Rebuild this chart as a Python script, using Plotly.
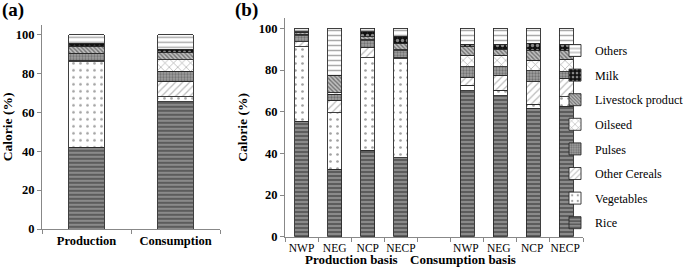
import plotly.graph_objects as go

series = ["Rice", "Vegetables", "Other Cereals", "Pulses", "Oilseed", "Livestock product", "Milk", "Others"]

# Panel (a)
cats_a = ["Production", "Consumption"]
vals_a = {
    "Rice": [42, 65.5],
    "Vegetables": [44, 2.5],
    "Other Cereals": [0.5, 8],
    "Pulses": [3.5, 5],
    "Oilseed": [0.5, 6],
    "Livestock product": [3.5, 4],
    "Milk": [1.5, 1.5],
    "Others": [4.5, 7.5],
}

# Panel (b)
cats_b = ["NWP", "NEG", "NCP", "NECP", "  ", "NWP ", "NEG ", "NCP ", "NECP "]
vals_b = {
    "Rice":              [55.5, 32.5, 41.5, 38.0, None, 70.0, 67.7, 61.6, 62.7],
    "Vegetables":        [35.7, 27.0, 44.5, 47.5, None, 2.8, 2.7, 2.1, 4.5],
    "Other Cereals":     [2.4, 6.0, 5.0, 0.5, None, 3.7, 7.2, 10.7, 8.8],
    "Pulses":            [2.8, 3.0, 3.0, 3.2, None, 5.1, 4.0, 5.3, 3.2],
    "Oilseed":           [0.8, 0.5, 0.5, 0.5, None, 5.6, 5.6, 5.1, 6.0],
    "Livestock product": [1.0, 8.5, 1.5, 3.0, None, 4.0, 2.8, 4.8, 4.1],
    "Milk":              [0.3, 0.0, 2.5, 3.5, None, 1.3, 2.5, 3.2, 3.2],
    "Others":            [1.5, 22.5, 1.5, 3.8, None, 7.5, 7.5, 7.2, 7.5],
}
group_labels = ["Production basis", "Consumption basis"]

patterns = {
    "Rice": dict(shape="-", fgcolor="#222222", bgcolor="#8a8a8a", size=4, solidity=0.45),
    "Vegetables": dict(shape=".", fgcolor="#444444", bgcolor="white", size=7, solidity=0.12),
    "Other Cereals": dict(shape="/", fgcolor="#777777", bgcolor="white", size=5, solidity=0.25),
    "Pulses": dict(shape=".", fgcolor="#444444", bgcolor="#a0a0a0", size=3, solidity=0.45),
    "Oilseed": dict(shape="x", fgcolor="#444444", bgcolor="white", size=6, solidity=0.2),
    "Livestock product": dict(shape="\\", fgcolor="#222222", bgcolor="#c0c0c0", size=3, solidity=0.45),
    "Milk": dict(shape=".", fgcolor="white", bgcolor="#111111", size=5, solidity=0.35),
    "Others": dict(shape="-", fgcolor="#555555", bgcolor="white", size=5, solidity=0.3),
}

FONT = "Liberation Serif"
fig = go.Figure()

for i, s in enumerate(series):
    pat = patterns[s]
    fig.add_trace(go.Bar(
        x=cats_a, y=vals_a[s], name=s, showlegend=False,
        xaxis="x", yaxis="y",
        marker=dict(color=pat["bgcolor"], pattern=pat, line=dict(color="#2a2a2a", width=0.9)),
        width=0.4,
    ))
    fig.add_trace(go.Bar(
        x=cats_b, y=vals_b[s], name=s, showlegend=True,
        xaxis="x2", yaxis="y2", legendgroup=s, legendrank=100 - i,
        marker=dict(color=pat["bgcolor"], pattern=pat, line=dict(color="#2a2a2a", width=0.9)),
        width=0.42,
    ))

axis_common = dict(showline=True, linecolor="#888888", linewidth=1, ticks="outside",
                   tickcolor="#888888", ticklen=4, showgrid=False, zeroline=False)

fig.update_layout(
    width=685, height=279,
    margin=dict(l=0, r=0, t=0, b=0, autoexpand=False),
    paper_bgcolor="white", plot_bgcolor="white",
    barmode="stack",
    font=dict(family=FONT, color="black"),
    xaxis=dict(domain=[42/685, 220/685], type="category", tickson="boundaries", tickangle=0,
               tickfont=dict(size=12.5, weight="bold", family=FONT), anchor="y", **axis_common),
    yaxis=dict(domain=[1-229/279, 1-24.8/279], range=[0, 105], tickvals=[0, 20, 40, 60, 80, 100],
               tickfont=dict(size=12.5, weight="bold", family=FONT), anchor="x",
               title=dict(text="Calorie (%)", font=dict(size=13.5, weight="bold", family=FONT), standoff=12),
               **axis_common),
    xaxis2=dict(domain=[285/685, 583/685], type="category", tickson="boundaries", tickangle=0,
                categoryorder="array", categoryarray=cats_b,
                tickfont=dict(size=11.5, family=FONT), anchor="y2", **axis_common),
    yaxis2=dict(domain=[1-236.7/279, 1-18/279], range=[0, 105], tickvals=[0, 20, 40, 60, 80, 100],
                tickfont=dict(size=12.5, weight="bold", family=FONT), anchor="x2",
                title=dict(text="Calorie (%)", font=dict(size=13.5, weight="bold", family=FONT), standoff=8),
                **axis_common),
    legend=dict(x=555/685, y=1-36/279, xanchor="left", yanchor="top",
                traceorder="grouped", tracegroupgap=5.6,
                font=dict(size=12.1, family=FONT), itemwidth=30,
                bgcolor="rgba(0,0,0,0)"),
    annotations=[
        dict(text="<b>(a)</b>", x=0, y=1.01, xref="paper", yref="paper", xanchor="left", yanchor="top",
             showarrow=False, font=dict(size=19, family=FONT)),
        dict(text="<b>(b)</b>", x=233/685, y=1.01, xref="paper", yref="paper", xanchor="left", yanchor="top",
             showarrow=False, font=dict(size=19, family=FONT)),
        dict(text="<b>" + group_labels[0] + "</b>", x=351/685, y=1-269/279, xref="paper", yref="paper",
             showarrow=False, font=dict(size=13, family=FONT)),
        dict(text="<b>" + group_labels[1] + "</b>", x=518/685, y=1-269/279, xref="paper", yref="paper",
             showarrow=False, font=dict(size=13, family=FONT)),
    ],
)

fig.write_html("out.html", config={"displayModeBar": False},
               post_script="document.body.style.margin='0px';")
